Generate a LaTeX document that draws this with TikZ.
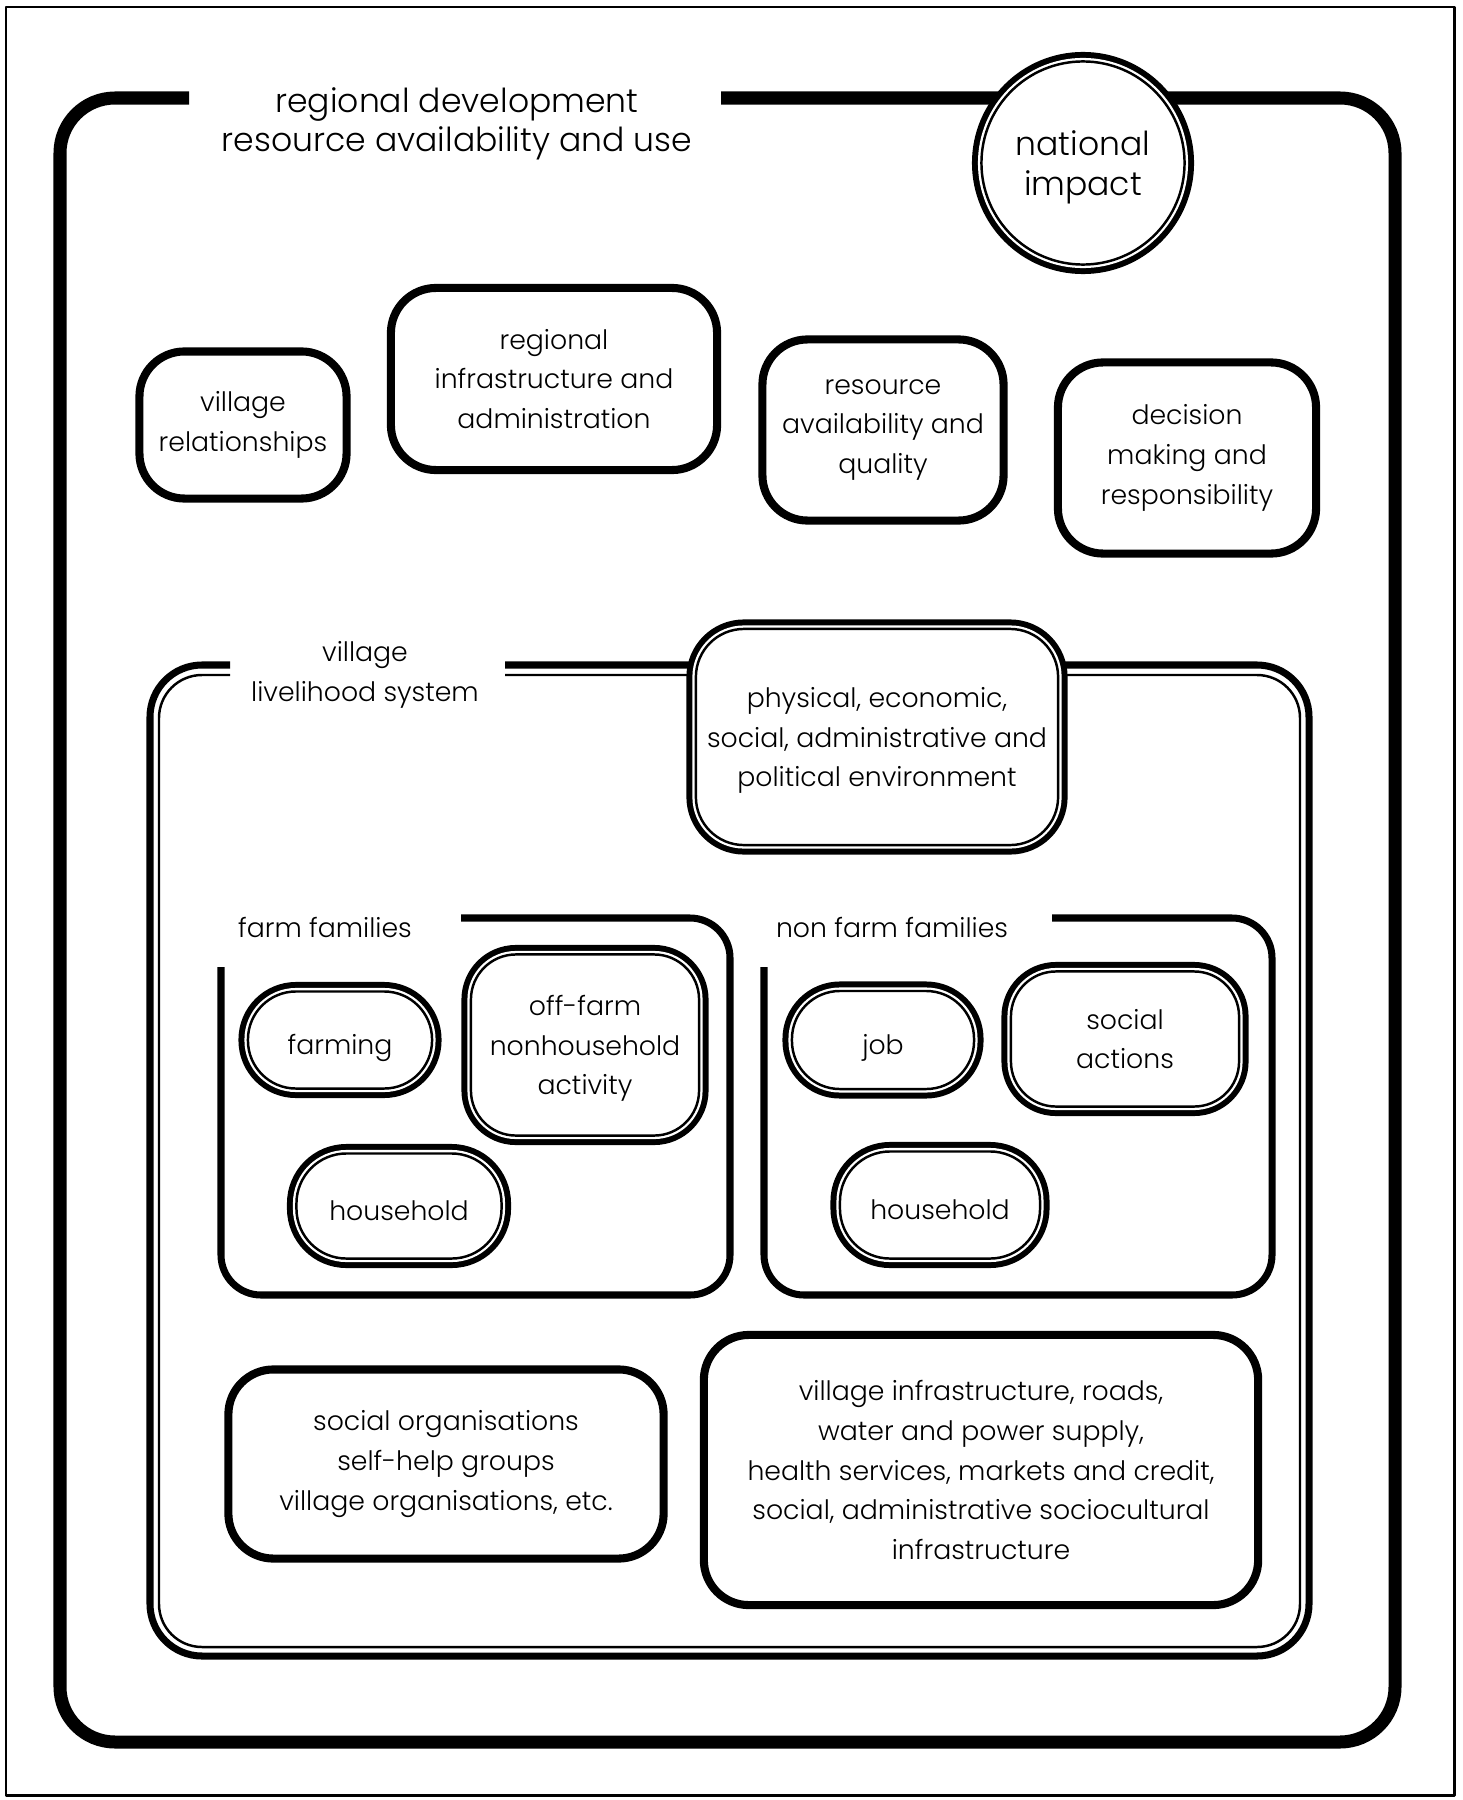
\documentclass[tikz,border=0pt]{standalone}
\usepackage{fontspec}
\setmainfont{Poppins}[UprightFont=* Light]
\usetikzlibrary{shapes.geometric}
\newcommand{\boxfont}{\fontsize{7.6}{11.3}\selectfont}
\newcommand{\bigfont}{\fontsize{9.4}{11.2}\selectfont}
\begin{document}
\begin{tikzpicture}[x=0.01cm, y=-0.01cm, font=\boxfont, line join=round,
		onebox/.style={draw, fill=white, line width=2.3pt, rounded corners=0.45cm, align=center, inner sep=0pt},
		twobox/.style={fill=white, rounded corners=#1, align=center, inner sep=0pt,
			preaction={draw, line width=5.4pt},
			postaction={draw=white, line width=2pt},
			postaction={draw, line width=0.7pt}},
		twobox/.default=0.45cm,
		oneline/.style={text height=0.85em, text depth=0pt}]
	\useasboundingbox (0,0) rectangle (1462,1800);
	\draw[line width=0.85pt] (6,7) rectangle (1454,1795); % page border
	% regional frame
	\draw[line width=3.7pt, rounded corners=0.55cm] (189,98) -- (60,98) -- (60,1742) -- (1395,1742) -- (1395,98) -- (721,98);
	\node[align=center, font=\bigfont] (region) at (457,124) {regional development\\resource availability and use};
	\node[circle, twobox, minimum size=2.03cm, font=\bigfont, text depth=0pt] (natimp) at (1083,163) {national\\impact};
	\node[onebox, minimum width=2.07cm, minimum height=1.47cm] (vrel) at (243,425) {village\\relationships};
	\node[onebox, minimum width=3.26cm, minimum height=1.82cm] (rinf) at (554,379) {regional\\infrastructure and\\administration};
	\node[onebox, minimum width=2.41cm, minimum height=1.81cm] (resav) at (883,430) {resource\\availability and\\quality};
	\node[onebox, minimum width=2.58cm, minimum height=1.91cm] (decis) at (1187,458) {decision\\making and\\responsibility};
	% village livelihood frame (double line)
	\draw[line width=2pt, rounded corners=0.52cm] (230,665) -- (150,665) -- (150,1656) -- (1309,1656) -- (1309,665) -- (505,665);
	\draw[line width=0.7pt, rounded corners=0.43cm] (230,675) -- (159,675) -- (159,1647) -- (1300,1647) -- (1300,675) -- (505,675);
	\node[align=center] (vls) at (365,675) {village\\livelihood system};
	\node[twobox=0.48cm, minimum width=3.62cm, minimum height=2.16cm, text depth=0pt] (env) at (877,737) {physical, economic,\\social, administrative and\\political environment};
	% farm families
	\draw[line width=2pt, rounded corners=0.4cm] (221,967) -- (221,1295) -- (730,1295) -- (730,918) -- (461,918);
	\node (farmlab) at (325,927) {farm families};
	\node[twobox=0.48cm, oneline, minimum width=1.84cm, minimum height=0.97cm] (farming) at (340,1040) {farming};
	\node[twobox, minimum width=2.28cm, minimum height=1.81cm, text depth=0pt] (offfarm) at (585,1045) {off-farm\\nonhousehold\\activity};
	\node[twobox=0.5cm, oneline, minimum width=2.05cm, minimum height=1.05cm] (hhfarm) at (399,1206) {household};
	% non farm families
	\draw[line width=2pt, rounded corners=0.4cm] (764,967) -- (764,1295) -- (1272,1295) -- (1272,918) -- (1052,918);
	\node (nfarmlab) at (892,927) {non farm families};
	\node[twobox=0.48cm, oneline, minimum width=1.82cm, minimum height=0.98cm] (job) at (883,1040) {job};
	\node[twobox, minimum width=2.28cm, minimum height=1.35cm] (socact) at (1125,1039) {social\\actions};
	\node[twobox=0.5cm, oneline, minimum width=2.0cm, minimum height=1.07cm] (hhnfarm) at (940,1205) {household};
	% village level
	\node[onebox, minimum width=4.35cm, minimum height=1.89cm] (socorg) at (446,1464) {social organisations\\self-help groups\\village organisations, etc.};
	\node[onebox, minimum width=5.54cm, minimum height=2.70cm] (vinf) at (981,1470) {village infrastructure, roads,\\water and power supply,\\health services, markets and credit,\\social, administrative sociocultural\\infrastructure};
\end{tikzpicture}
\end{document}
